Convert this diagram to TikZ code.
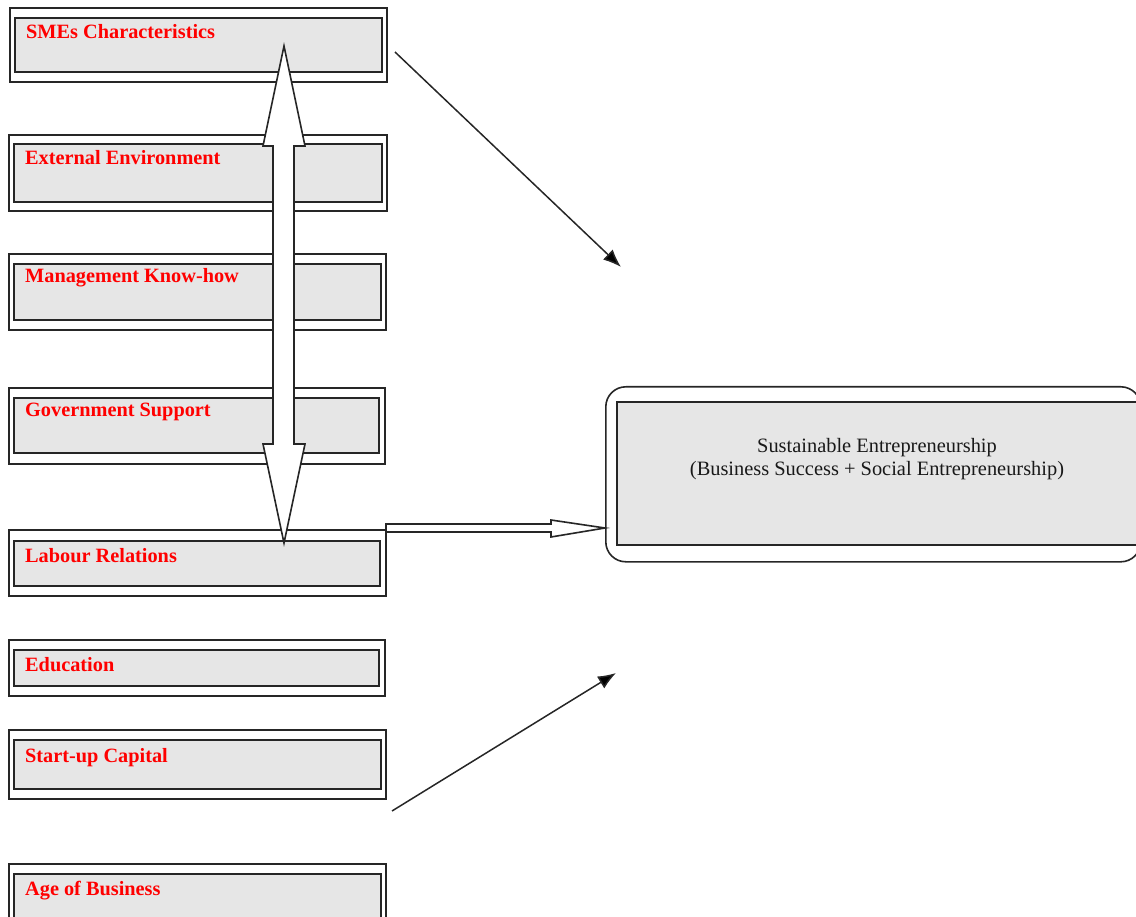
\documentclass[tikz,border=0pt]{standalone}
\usepackage{fontspec}
\setmainfont{Liberation Serif}
\usetikzlibrary{arrows.meta,calc}
\definecolor{boxgray}{HTML}{E6E6E6}
\definecolor{linegray}{HTML}{262626}
\definecolor{labelred}{HTML}{FF0000}
\tikzset{
  outerbox/.style={draw=linegray, line width=1.6pt, fill=white, rectangle, inner sep=0pt, anchor=north west},
  innerbox/.style={draw=linegray, line width=1.6pt, fill=boxgray, rectangle, inner sep=0pt, anchor=north west},
  goalouter/.style={draw=linegray, line width=1.6pt, fill=white, rectangle, rounded corners=20pt, inner sep=0pt, anchor=north west},
  factorlabel/.style={text=labelred, font=\fontsize{20.3}{24}\selectfont\bfseries, inner sep=0pt, anchor=base west},
  goallabel/.style={text=black!90, font=\fontsize{20.4}{23}\selectfont, inner sep=0pt, align=center},
  hollowarrow/.style={draw=linegray, line width=1.6pt, fill=white, line join=miter},
  thinarrow/.style={draw=linegray, line width=1.5pt, -{Latex[length=18pt,width=14pt,fill=black]}}
}
\begin{document}
\begin{tikzpicture}[x=1pt,y=-1pt]
\useasboundingbox (0,0) rectangle (1136,917);
\clip (0,0) rectangle (1136,917);
% factor boxes
\foreach \n/\xa/\ya/\xb/\yb/\xc/\yc/\xd/\yd/\bl/\t in {
  sme/9/7/386/81/14/17/381/71/38.5/SMEs Characteristics,
  ext/8/134/386/210/13/143/381/201/164.5/External Environment,
  mgt/8/253/385/329/13/263/380/319/283/Management Know-how,
  gov/8/387/384/463/13/397/378/452/417/Government Support,
  lab/8/529/385/595/13/540/379/585/562/Labour Relations,
  edu/8/639/384/695/13/649/378/685/671/Education,
  cap/8/729/385/798/13/739/380/788/762/Start-up Capital,
  age/8/863/385/950/13/873/380/940/895/Age of Business}
{
  \node[outerbox, minimum width={(\xb-\xa)*1pt}, minimum height={(\yb-\ya)*1pt}] (\n) at (\xa,\ya) {};
  \node[innerbox, minimum width={(\xd-\xc)*1pt}, minimum height={(\yd-\yc)*1pt}] (\n-in) at (\xc,\yc) {};
  \node[factorlabel] (\n-lbl) at (\xc+12,\bl) {\t};
}
% goal box
\node[goalouter, minimum width=535pt, minimum height=175pt] (goal) at (605,386) {};
\node[innerbox, minimum width=522pt, minimum height=143pt] (goal-in) at (616,401) {};
\node[goallabel] (goal-lbl) at (877,458.7) {Sustainable Entrepreneurship\\(Business Success + Social Entrepreneurship)};
% big vertical double arrow
\coordinate (bt) at (284,46);
\coordinate (bb) at (284,543);
\draw[hollowarrow] (bt) -- ++(21,100) -- ++(-11,0) -- ($(bb)+(10,-99)$) -- ++(11,0) -- (bb)
  -- ++(-21,-99) -- ++(10,0) -- ($(bt)+(-11,100)$) -- ++(-10,0) -- cycle;
% horizontal hollow arrow
\coordinate (hs) at (386,528);
\coordinate (ht) at (605,528);
\draw[hollowarrow] ($(hs)+(0,-4)$) -- ($(ht)+(-54,-4)$) -- ++(0,-4) -- (ht) -- ($(ht)+(-54,9)$)
  -- ++(0,-5) -- ($(hs)+(0,4)$) -- cycle;
% diagonal arrows
\coordinate (d1s) at (395,52);
\coordinate (d1t) at (621,267);
\draw[thinarrow] (d1s) -- (d1t);
\coordinate (d2s) at (392,811);
\coordinate (d2t) at (616,673);
\draw[thinarrow] (d2s) -- (d2t);
\end{tikzpicture}
\end{document}
